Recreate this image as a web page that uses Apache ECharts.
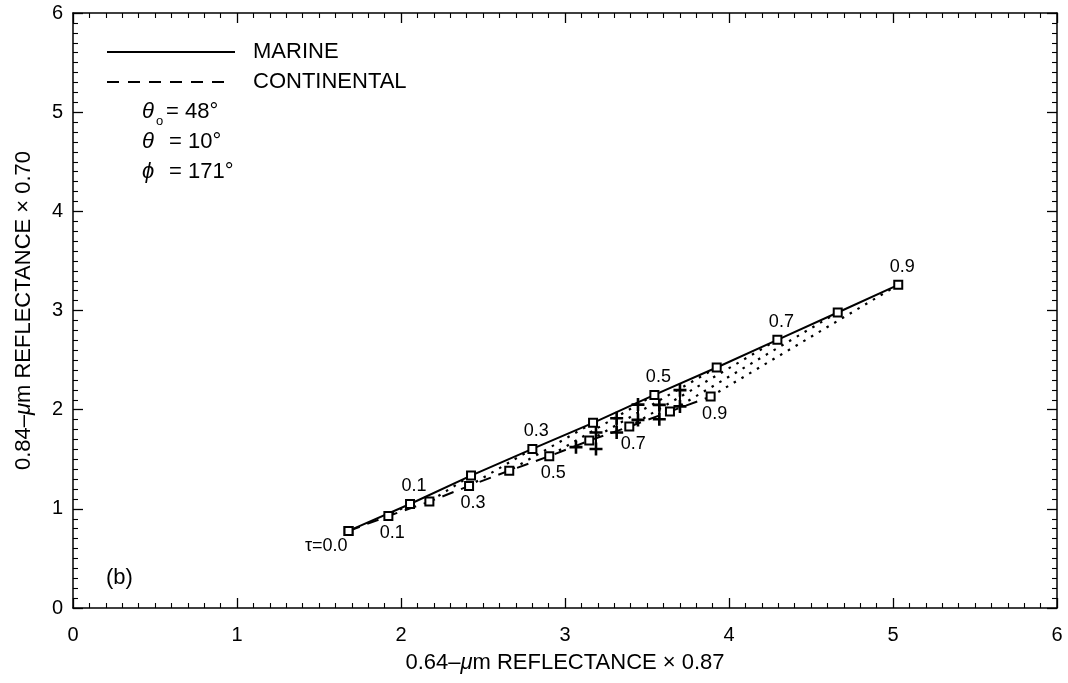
<!DOCTYPE html>
<html>
<head>
<meta charset="utf-8">
<script src="https://cdn.jsdelivr.net/npm/echarts@6/dist/echarts.min.js"></script>
<style>
  html, body { margin: 0; padding: 0; background: #fff; }
  #chart { width: 1068px; height: 683px; }
</style>
</head>
<body>
<div id="chart"></div>
<script>
// optical depth steps
var tau = [0.0, 0.1, 0.2, 0.3, 0.4, 0.5, 0.6, 0.7, 0.8, 0.9];
// marine model
var marineX = [1.68, 2.055, 2.427, 2.801, 3.171, 3.545, 3.925, 4.295, 4.663, 5.032];
var marineY = [0.777, 1.049, 1.335, 1.604, 1.867, 2.149, 2.425, 2.704, 2.980, 3.259];
// continental model
var contX = [1.68, 1.923, 2.173, 2.415, 2.660, 2.904, 3.148, 3.392, 3.640, 3.888];
var contY = [0.777, 0.928, 1.073, 1.231, 1.385, 1.531, 1.688, 1.829, 1.981, 2.132];
// observations (vertical bars)
var obsX = [3.067, 3.189, 3.315, 3.445, 3.575, 3.701];
var obsHigh = [1.622, 1.769, 1.914, 2.051, 2.048, 2.197];
var obsLow = [1.622, 1.604, 1.769, 1.897, 1.904, 2.033];

var FONT = "'Liberation Sans', Arial, sans-serif";
var plus = 'path://M4,0H6V4H10V6H6V10H4V6H0V4H4Z';

function modelData(xs, ys, where) {
	var out = [];
	for (var i = 0; i < xs.length; i++) {
		var item = { value: [xs[i], ys[i]] };
		var odd = Math.round(tau[i] * 10) % 2 == 1;
		if (odd) {
			item.label = {
				show: true,
				position: where,
				distance: where == 'top' ? 4 : 3,
				offset: [4, 0],
				fontSize: 18,
				fontFamily: FONT,
				color: '#000',
				formatter: tau[i].toFixed(1)
			};
		} else if (i == 0 && where == 'top') {
			item.label = {
				show: true,
				position: 'left',
				distance: 0,
				offset: [4, 15],
				fontSize: 18,
				fontFamily: FONT,
				color: '#000',
				formatter: '\u03c4=0.0'
			};
		}
		out.push(item);
	}
	return out;
}

var series = [];
// dotted lines joining equal tau
for (var i = 1; i < tau.length; i++) {
	series.push({
		type: 'line',
		data: [[marineX[i], marineY[i]], [contX[i], contY[i]]],
		symbol: 'none',
		silent: true,
		z: 1,
		lineStyle: { color: '#000', width: 2.2, type: [2.5, 6.5] }
	});
}
series.push({
	name: 'MARINE',
	type: 'line',
	data: modelData(marineX, marineY, 'top'),
	symbol: 'emptyRect',
	symbolSize: 8,
	z: 3,
	lineStyle: { color: '#000', width: 2 },
	itemStyle: { color: '#000', borderWidth: 1.4 }
});
series.push({
	name: 'CONTINENTAL',
	type: 'line',
	data: modelData(contX, contY, 'bottom'),
	symbol: 'emptyRect',
	symbolSize: 8,
	z: 3,
	lineStyle: { color: '#000', width: 2, type: [12, 8] },
	itemStyle: { color: '#000', borderWidth: 1.4 }
});
for (var j = 0; j < obsX.length; j++) {
	var pts = obsHigh[j] == obsLow[j] ? [[obsX[j], obsHigh[j]]] : [[obsX[j], obsHigh[j]], [obsX[j], obsLow[j]]];
	series.push({
		type: 'line',
		data: pts,
		symbol: plus,
		symbolSize: 13,
		z: 4,
		lineStyle: { color: '#000', width: 2 },
		itemStyle: { color: '#000' }
	});
}

var axisCommon = {
	type: 'value',
	min: 0,
	max: 6,
	interval: 1,
	axisLine: { show: true, onZero: false, lineStyle: { color: '#000', width: 1.5 } },
	axisTick: { show: true, inside: true, length: 10, lineStyle: { color: '#000', width: 1.3 } },
	minorTick: { show: true, splitNumber: 10, length: 5, lineStyle: { color: '#000', width: 1.1 } },
	splitLine: { show: false },
	axisLabel: { color: '#000', fontSize: 20, fontFamily: FONT, margin: 14 }
};

function ax(extra) {
	return Object.assign({}, axisCommon, extra);
}

var textStyle = { fill: '#000', fontSize: 22, fontFamily: FONT, verticalAlign: 'middle' };
var nameStyle = { color: '#000', fontSize: 22, fontFamily: FONT, rich: { i: { fontStyle: 'italic', fontSize: 22, fontFamily: FONT } } };

var myChart = echarts.init(document.getElementById('chart'));
var option = {
	animation: false,
	backgroundColor: '#fff',
	grid: { left: 73, right: 11, top: 13, bottom: 75 },
	xAxis: [
		ax({
			position: 'bottom',
			name: '0.64\u2013{i|\u03bc}m REFLECTANCE \u00d7 0.87',
			nameLocation: 'middle',
			nameGap: 44,
			nameTextStyle: nameStyle,
			axisLabel: { color: '#000', fontSize: 20, fontFamily: FONT, margin: 17 }
		}),
		ax({ position: 'top', axisLabel: { show: false } })
	],
	yAxis: [
		ax({
			position: 'left',
			name: '0.84\u2013{i|\u03bc}m REFLECTANCE \u00d7 0.70',
			nameLocation: 'middle',
			nameGap: 38,
			nameTextStyle: nameStyle,
			axisLabel: { color: '#000', fontSize: 20, fontFamily: FONT, margin: 10 }
		}),
		ax({ position: 'right', axisLabel: { show: false } })
	],
	series: series,
	graphic: [
		{ type: 'line', shape: { x1: 107, y1: 52, x2: 235, y2: 52 }, style: { stroke: '#000', lineWidth: 2 } },
		{ type: 'line', shape: { x1: 107, y1: 82, x2: 224, y2: 82 }, style: { stroke: '#000', lineWidth: 2, lineDash: [12, 9] } },
		{ type: 'text', x: 253, y: 52, style: Object.assign({ text: 'MARINE' }, textStyle) },
		{ type: 'text', x: 253, y: 82, style: Object.assign({ text: 'CONTINENTAL' }, textStyle) },
		{ type: 'text', x: 142, y: 112, style: Object.assign({ text: '\u03b8' }, textStyle, { fontStyle: 'italic' }) },
		{ type: 'text', x: 156, y: 121, style: Object.assign({ text: 'o' }, textStyle, { fontSize: 13 }) },
		{ type: 'text', x: 166, y: 112, style: Object.assign({ text: '= 48\u00b0' }, textStyle) },
		{ type: 'text', x: 142, y: 142, style: Object.assign({ text: '\u03b8' }, textStyle, { fontStyle: 'italic' }) },
		{ type: 'text', x: 169, y: 142, style: Object.assign({ text: '= 10\u00b0' }, textStyle) },
		{ type: 'text', x: 142, y: 172, style: Object.assign({ text: '\u03d5' }, textStyle, { fontStyle: 'italic' }) },
		{ type: 'text', x: 169, y: 172, style: Object.assign({ text: '= 171\u00b0' }, textStyle) },
		{ type: 'text', x: 106, y: 578, style: Object.assign({ text: '(b)' }, textStyle) }
	]
};
myChart.setOption(option);
</script>
</body>
</html>
